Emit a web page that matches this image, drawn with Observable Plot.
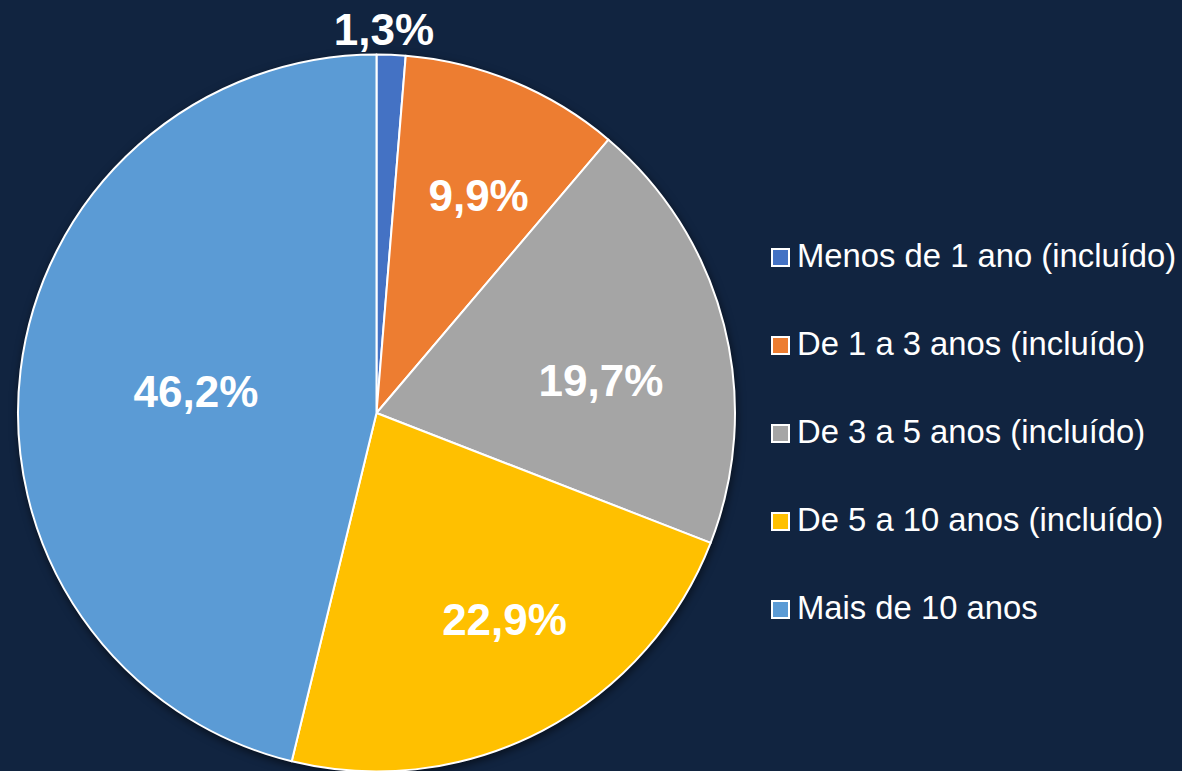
<!DOCTYPE html>
<html>
<head>
<meta charset="utf-8">
<script src="https://cdn.jsdelivr.net/npm/d3@7"></script>
<script src="https://cdn.jsdelivr.net/npm/@observablehq/plot@0.6"></script>
<style>
  html, body { margin: 0; padding: 0; background: #112440; }
  #wrap { position: relative; width: 1182px; height: 771px; overflow: hidden; background: #112440; font-family: "Liberation Sans", Arial, sans-serif; }
  #legend { position: absolute; left: 771px; top: 212px; }
  .row { height: 88px; display: flex; align-items: center; color: #fff; font-size: 32.8px; white-space: nowrap; }
  .sw { width: 15px; height: 15px; border: 2px solid #fff; margin-right: 7px; margin-top: 2px; flex: none; }
</style>
</head>
<body>
<div id="wrap"></div>
<script>
// ---- data ----
const categories = [
  "Menos de 1 ano (incluído)",
  "De 1 a 3 anos (incluído)",
  "De 3 a 5 anos (incluído)",
  "De 5 a 10 anos (incluído)",
  "Mais de 10 anos"
];
const values = [1.3, 9.9, 19.7, 22.9, 46.2];
const valueLabels = ["1,3%", "9,9%", "19,7%", "22,9%", "46,2%"];
const colors = ["#4472C4", "#ED7D31", "#A5A5A5", "#FFC000", "#5B9BD5"];

// ---- layout ----
const W = 1182, H = 771;
const cx = 376.5, cy = 413, R = 358.5;
// label placement (polar): distance as fraction of radius, angular nudge in degrees
const labelRadius = [1.068, 0.668, 0.631, 0.680, 0.508];
const labelNudge = [-1.3, 2.6, 6.1, -4.0, -0.5];

const color = Plot.scale({color: {type: "ordinal", domain: categories, range: colors}});

const rows = categories.map((c, i) => ({category: c, value: values[i], label: valueLabels[i]}));
const arcs = d3.pie().sort(null).value(d => d.value)(rows);
const labelData = arcs.map((a, i) => {
  const mid = (a.startAngle + a.endAngle) / 2 + labelNudge[i] * Math.PI / 180;
  const r = labelRadius[i];
  return {x: r * Math.sin(mid), y: r * Math.cos(mid), label: a.data.label};
});

const pieMark = (index, scales, vals, dimensions, context) => {
  const x0 = scales.x(0), y0 = scales.y(0);
  const rad = scales.x(1) - scales.x(0);
  const arc = d3.arc().innerRadius(0).outerRadius(rad);
  const g = d3.create("svg:g")
    .attr("transform", `translate(${x0},${y0})`)
    .style("filter", "drop-shadow(1px 3px 4px rgba(0,0,0,0.55))");
  g.selectAll("path")
    .data(arcs)
    .join("path")
    .attr("d", arc)
    .attr("fill", d => color.apply(d.data.category))
    .attr("stroke", "#fff")
    .attr("stroke-width", 2)
    .attr("stroke-linejoin", "round");
  return g.node();
};

const chart = Plot.plot({
  width: W,
  height: H,
  margin: 0,
  style: {background: "transparent", overflow: "visible"},
  x: {domain: [-cx / R, (W - cx) / R], axis: null},
  y: {domain: [-(H - cy) / R, cy / R], axis: null},
  marks: [
    pieMark,
    Plot.text(labelData, {
      x: "x", y: "y", text: "label",
      fill: "#fff",
      fontSize: 44,
      fontWeight: "bold",
      fontFamily: "Liberation Sans, Arial, sans-serif"
    })
  ]
});

const wrap = document.getElementById("wrap");
wrap.appendChild(chart);

const legend = document.createElement("div");
legend.id = "legend";
categories.forEach((c, i) => {
  const row = document.createElement("div");
  row.className = "row";
  const sw = document.createElement("span");
  sw.className = "sw";
  sw.style.background = color.apply(c);
  const t = document.createElement("span");
  t.textContent = c;
  row.appendChild(sw);
  row.appendChild(t);
  legend.appendChild(row);
});
wrap.appendChild(legend);
</script>
</body>
</html>
